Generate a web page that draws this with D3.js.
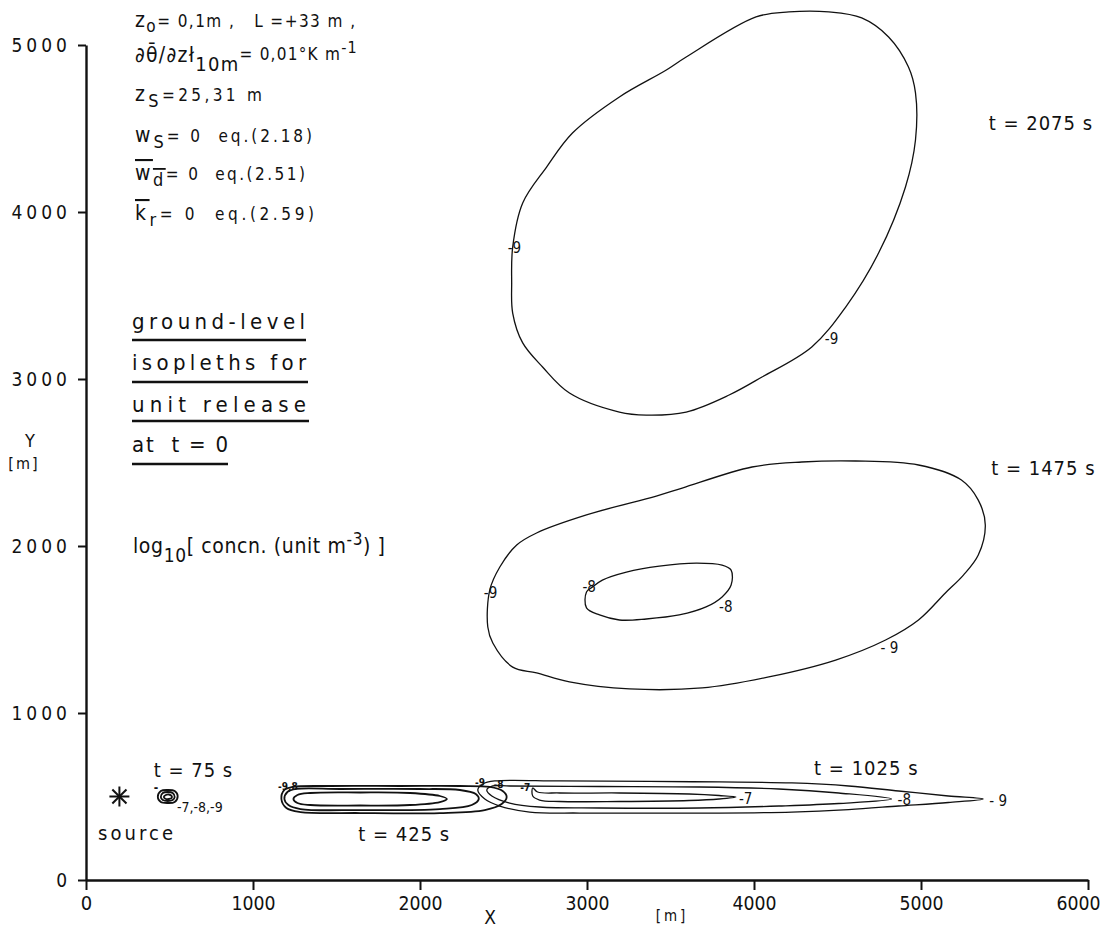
<!DOCTYPE html>
<html><head><meta charset="utf-8">
<script src="https://cdn.jsdelivr.net/npm/d3@7"></script>
<style>
html,body{margin:0;padding:0;background:#fff;}
svg{display:block;background:#fff;}
text{font-family:"DejaVu Sans Condensed","DejaVu Sans",sans-serif;fill:#111;}
</style></head><body>
<svg id="chart" width="1111" height="939"></svg>
<script>
// ================= DATA =================
const xTicks = [0, 1000, 2000, 3000, 4000, 5000, 6000];
const yTicks = [0, 1000, 2000, 3000, 4000, 5000];
const sourcePoint = [200, 500];
const times = [75, 425, 1025, 1475, 2075];
const levels = [-9, -8, -7];

// isopleth outlines, [X m, Y m]
const c2075_m9 = [[4448,5198],[4209,5198],[4012,5168],[3594,4928],[3475,4850],[3194,4689],[2913,4473],[2758,4269],[2615,4054],[2555,3790],[2549,3575],[2555,3395],[2615,3216],[2734,3072],[2895,2916],[3194,2802],[3355,2784],[3594,2802],[3851,2904],[4048,3012],[4346,3192],[4549,3431],[4746,3754],[4907,4150],[4967,4431],[4967,4713],[4925,4868],[4806,5048],[4645,5162]];
const c1475_m9 = [[4609,2509],[4286,2503],[3988,2473],[3570,2347],[3415,2299],[2997,2186],[2698,2078],[2579,2006],[2478,1874],[2418,1737],[2406,1515],[2436,1419],[2555,1275],[2698,1240],[2895,1186],[3254,1144],[3689,1150],[4089,1216],[4489,1317],[4788,1437],[4985,1557],[5146,1719],[5254,1826],[5343,1946],[5385,2126],[5343,2275],[5242,2395],[4985,2485]];
const c1475_m8 = [[2997,1725],[2997,1629],[3075,1587],[3194,1557],[3355,1563],[3552,1587],[3713,1635],[3809,1695],[3863,1766],[3863,1856],[3809,1886],[3654,1898],[3433,1880],[3236,1844],[3092,1796],[3033,1754]];
const c1025_m9 = [[2346,539],[2376,575],[2448,593],[2836,593],[3373,590],[3791,587],[4227,581],[4567,563],[4866,533],[5164,503],[5373,485],[5164,464],[4866,443],[4567,422],[4227,407],[3791,401],[3373,401],[2955,401],[2657,407],[2478,443],[2388,485]];
const c1025_m8 = [[2400,539],[2436,563],[2537,563],[3075,560],[3672,557],[4149,545],[4507,521],[4824,485],[4507,458],[4149,443],[3672,431],[3075,431],[2716,437],[2537,461],[2430,503]];
const c1025_m7 = [[2675,551],[2704,527],[2836,521],[3194,521],[3612,515],[3791,506],[3892,497],[3791,485],[3612,476],[3194,470],[2836,470],[2716,479],[2675,503]];
const c425_m9 = [[1170,485],[1188,539],[1236,557],[1463,563],[1881,563],[2239,563],[2418,557],[2495,533],[2519,497],[2489,455],[2388,419],[2119,401],[1642,401],[1284,407],[1200,431]];
const c425_m8 = [[1188,485],[1206,527],[1260,545],[1522,545],[2000,545],[2239,539],[2334,515],[2352,485],[2310,449],[2119,425],[1642,419],[1284,425],[1212,449]];
const c425_m7 = [[1242,485],[1266,509],[1343,521],[1642,524],[1940,521],[2119,503],[2161,485],[2119,467],[1940,449],[1642,446],[1343,449],[1266,461]];
const c75_m9 = [[430,497],[448,533],[490,539],[531,533],[549,503],[531,467],[490,461],[448,467]];
const c75_m8 = [[448,497],[460,521],[490,527],[519,521],[531,497],[519,479],[490,473],[460,479]];
const c75_m7 = [[466,497],[478,509],[496,512],[513,503],[513,491],[496,485],[478,485]];

const contours = [
  {t:2075, level:-9, pts:c2075_m9},
  {t:1475, level:-9, pts:c1475_m9},
  {t:1475, level:-8, pts:c1475_m8},
  {t:1025, level:-9, pts:c1025_m9},
  {t:1025, level:-8, pts:c1025_m8},
  {t:1025, level:-7, pts:c1025_m7},
  {t:425,  level:-9, pts:c425_m9},
  {t:425,  level:-8, pts:c425_m8},
  {t:425,  level:-7, pts:c425_m7},
  {t:75,   level:-9, pts:c75_m9},
  {t:75,   level:-8, pts:c75_m8},
  {t:75,   level:-7, pts:c75_m7}
];

// level-label anchors on the isopleths [X m, Y m, text]
const levelLabelAnchors = [
  [2525,3754,"-9"],[4424,3210,"-9"],
  [2382,1689,"-9"],[4758,1359,"- 9"],[2973,1725,"-8"],[3791,1605,"-8"],
  [3910,455,"-7"],[4860,449,"-8"],[5409,443,"- 9"]
];
const smallLabelAnchors = [
  [2330,560,"-9"],[2440,548,"-8"],[2600,533,"-7"],
  [1150,539,"-9,8"]
];
// time labels [X m, Y m, text]
const timeLabels = [
  [5405,4490,"t = 2075 s"],
  [5420,2425,"t = 1475 s"],
  [4360,630,"t = 1025 s"],
  [1630,235,"t = 425 s"],
  [405,615,"t = 75 s"]
];

// ================= DRAWING =================
const svg = d3.select("#chart");
const x = d3.scaleLinear().domain([0, 6000]).range([86, 1088]);
const y = d3.scaleLinear().domain([0, 5000]).range([880, 45]);
const ink = "#111";

function fit(sel, target) {
  const n = sel.text().length;
  sel.style("letter-spacing", "0px");
  const w = sel.node().getBBox().width;
  sel.style("letter-spacing", ((target - w) / Math.max(1, n - 1)) + "px");
  return sel;
}

// axes
const xAxis = d3.axisBottom(x).tickValues(xTicks).tickSize(10).tickSizeOuter(0).tickPadding(6).tickFormat(d3.format("d"));
const gx = svg.append("g").attr("transform", `translate(0,${y(0)})`).call(xAxis);
gx.select(".domain").attr("stroke", ink).attr("stroke-width", 2.4);
gx.selectAll(".tick line").attr("stroke", ink).attr("stroke-width", 2);
gx.selectAll(".tick text").attr("fill", ink).style("font-size", "20px")
  .each(function(d) {
    const t = d3.select(this);
    if (d >= 1000) t.attr("textLength", 44).attr("lengthAdjust", "spacingAndGlyphs");
    if (d === 6000) t.attr("dx", "-10px");
  });

const yls = 4;
const yAxis = d3.axisLeft(y).tickValues(yTicks).tickSize(8).tickSizeOuter(0).tickPadding(11 - yls).tickFormat(d3.format("d"));
const gy = svg.append("g").attr("transform", `translate(${x(0)},0)`).call(yAxis);
gy.select(".domain").attr("stroke", ink).attr("stroke-width", 2.4);
gy.selectAll(".tick line").attr("stroke", ink).attr("stroke-width", 2);
gy.selectAll(".tick text").attr("fill", ink).style("font-size", "19px").style("letter-spacing", yls + "px");

// axis titles
svg.append("text").attr("x", 30).attr("y", 447).attr("text-anchor", "middle").style("font-size", "18px").text("Y");
svg.append("text").attr("x", 24).attr("y", 469).attr("text-anchor", "middle").style("font-size", "16px").style("letter-spacing","2px").text("[m]");
svg.append("text").attr("x", 490).attr("y", 924).attr("text-anchor", "middle").style("font-size", "19px").text("X");
svg.append("text").attr("x", 672).attr("y", 921).attr("text-anchor", "middle").style("font-size", "15px").style("letter-spacing","3px").text("[m]");

// isopleths
const line = d3.line().x(d => x(d[0])).y(d => y(d[1])).curve(d3.curveCatmullRomClosed.alpha(0.5));
svg.append("g").selectAll("path").data(contours).join("path")
  .attr("d", d => line(d.pts))
  .attr("fill", "none")
  .attr("stroke", ink)
  .attr("stroke-width", d => d.t <= 425 ? 1.8 : 1.3)
  .attr("stroke-linejoin", "round");

// level labels
svg.append("g").selectAll("text").data(levelLabelAnchors).join("text")
  .attr("x", d => x(d[0])).attr("y", d => y(d[1]))
  .style("font-size", "15px").style("white-space", "pre")
  .text(d => d[2]);
svg.append("g").selectAll("text").data(smallLabelAnchors).join("text")
  .attr("x", d => x(d[0])).attr("y", d => y(d[1]))
  .style("font-size", "10px").style("font-weight", "bold")
  .text(d => d[2]);
// t = 75 s : the three levels
svg.append("text").attr("x", x(545)).attr("y", y(405)).style("font-size", "14px")
  .text(levels.map(v => String(v)).reverse().join(","));
svg.append("text").attr("x", x(405)).attr("y", y(525)).style("font-size", "12px").style("font-weight","bold").text("-");

// time labels
svg.append("g").selectAll("text").data(timeLabels).join("text")
  .attr("x", d => x(d[0])).attr("y", d => y(d[1]))
  .style("font-size", "20px").style("letter-spacing", "1px").style("white-space", "pre")
  .text(d => d[2]);

// source marker (asterisk)
const sx = x(sourcePoint[0]), sy = y(sourcePoint[1]);
const r = 10;
const star = svg.append("g").attr("stroke", ink).attr("stroke-width", 2);
[0, 45, 90, 135].forEach(a => {
  const rad = a * Math.PI / 180;
  star.append("line").attr("x1", sx - r * Math.cos(rad)).attr("y1", sy - r * Math.sin(rad))
    .attr("x2", sx + r * Math.cos(rad)).attr("y2", sy + r * Math.sin(rad));
});
fit(svg.append("text").attr("x", 98).attr("y", 840).style("font-size", "20px").text("source"), 75);

// parameter block
function addLine(yb, parts, target, size) {
  const t = svg.append("text").attr("x", 135).attr("y", yb).style("font-size", size || "21px").style("white-space", "pre");
  parts.forEach(p => {
    const s = t.append("tspan").text(p.s);
    if (p.sub) s.attr("dy", p.sub).style("font-size", p.size || "17px");
    if (p.over) s.style("text-decoration", "overline");
  });
  fit(t, target);
  return t;
}
addLine(27, [{s:"z"},{s:"o",sub:"5",size:"17px"},{s:"= 0,1m ,   L =+33 m ,",sub:"-5"}], 220);
addLine(62, [{s:"∂θ̄/∂zł"},{s:"10m",sub:"9",size:"20px"},{s:"= 0,01°K m",sub:"-11"},{s:"-1",sub:"-7",size:"16px"}], 223);
addLine(101, [{s:"z"},{s:"S",sub:"6",size:"18px"},{s:"=25,31 m",sub:"-6"}], 127);
addLine(142, [{s:"w"},{s:"S",sub:"6",size:"18px"},{s:"= 0  eq.(2.18)",sub:"-6"}], 177);
addLine(180, [{s:"w",over:true},{s:"d",sub:"6",size:"18px",over:true},{s:"= 0  eq.(2.51)",sub:"-6"}], 170);
addLine(220, [{s:"k",over:true},{s:"r",sub:"6",size:"18px"},{s:"= 0  eq.(2.59)",sub:"-6"}], 179);

// legend block with underlines
const legendLines = [
  {s:"ground-level", yb:329, ul:340, w:173, x2:306},
  {s:"isopleths for", yb:370, ul:382, w:175, x2:308},
  {s:"unit release", yb:412, ul:421, w:174, x2:309},
  {s:"at  t = 0", yb:452, ul:464, w:96, x2:228}
];
legendLines.forEach(l => {
  fit(svg.append("text").attr("x", 132).attr("y", l.yb).style("font-size", "22px").style("white-space","pre").text(l.s), l.w);
  svg.append("line").attr("x1", 132).attr("x2", l.x2).attr("y1", l.ul).attr("y2", l.ul).attr("stroke", ink).attr("stroke-width", 2.4);
});
const lg = svg.append("text").attr("x", 133).attr("y", 553).style("font-size", "21px").style("white-space","pre");
lg.append("tspan").text("log");
lg.append("tspan").attr("dy", 9).style("font-size", "19px").text("10");
lg.append("tspan").attr("dy", -9).text("[ concn. (unit m");
lg.append("tspan").attr("dy", -8).style("font-size", "17px").text("-3");
lg.append("tspan").attr("dy", 8).text(") ]");
fit(lg, 252);
</script>
</body></html>
